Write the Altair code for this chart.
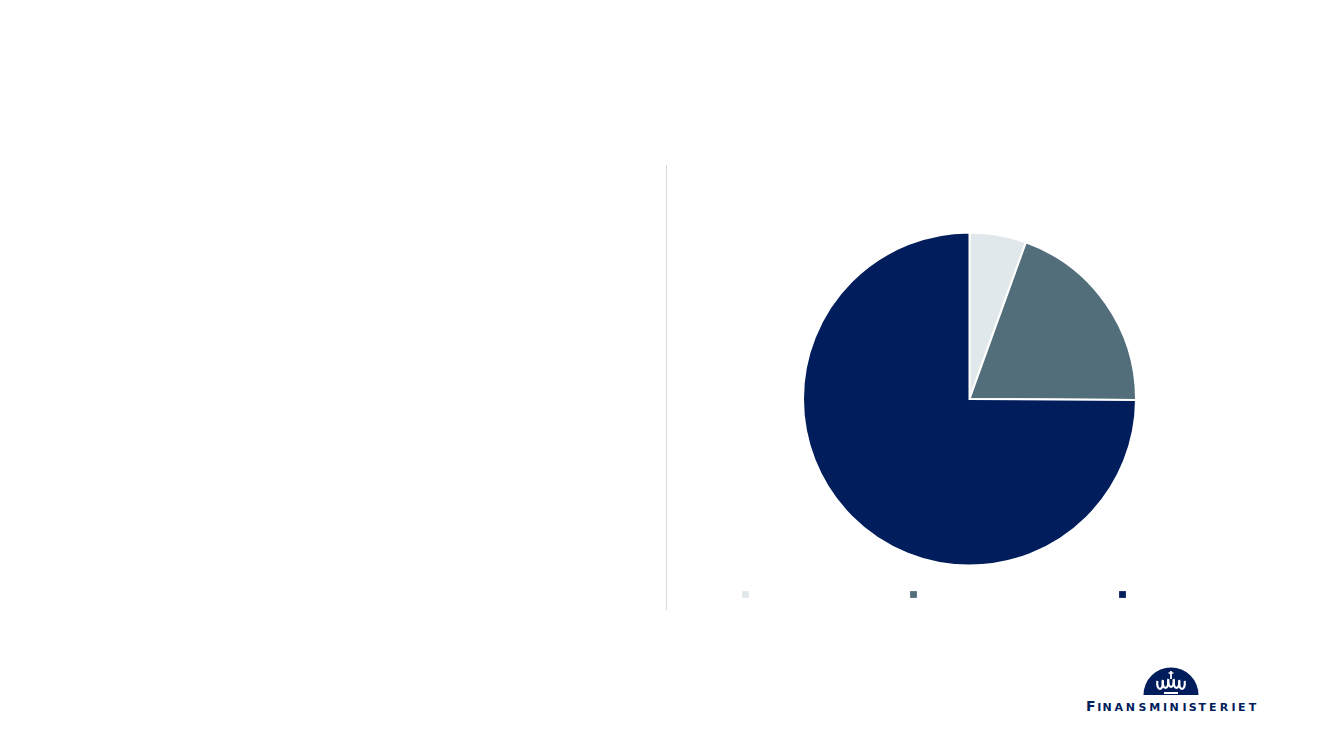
import altair as alt
import pandas as pd

# Pie shares (per cent), clockwise from 12 o'clock
shares = [5.5, 19.6, 74.9]
order = [1, 2, 3]
colors = ["#E1E8EB", "#526E7A", "#021D5C"]

# Legend swatches and logo details, in plot units (domain = plot size)
legend_x = [737.5, 905.5, 1114.5]
legend_y = [586.5, 586.5, 586.5]

logo_letters = list("FINANSMINISTERIET")
logo_x = [1078, 1089.2, 1094.6, 1106.4, 1117.7, 1130.5, 1141.2, 1155.1, 1161.5, 1174.4, 1180.8, 1190.4, 1201.1, 1211.8, 1223.6, 1230, 1240.7]
logo_size = [14, 11, 11, 11, 11, 11, 11, 11, 11, 11, 11, 11, 11, 11, 11, 11, 11]

crown_x = [1152, 1157.5, 1163, 1168.5, 1174]
crown_y = [677, 676, 675, 676, 677]
cross_x = [1163, 1163]
cross_y = [663, 671]
cross_bar_x = [1160.5, 1165.5]
cross_bar_y = [665, 665]
base_x = [1156, 1170]
base_y = [685, 685]

W, H = 1317, 734
xs = alt.Scale(domain=[0, W], range=[0, W])
ys = alt.Scale(domain=[0, H], range=[0, H])

pie = alt.Chart(pd.DataFrame({"share": shares, "order": order, "color": colors})).mark_arc(
    outerRadius=166.5, stroke="white", strokeWidth=2
).encode(
    theta=alt.Theta("share:Q", stack=True),
    order=alt.Order("order:O"),
    color=alt.Color("color:N", scale=None),
    x=alt.value(961.5),
    y=alt.value(391),
)

legend = alt.Chart(pd.DataFrame({"x": legend_x, "y": legend_y, "color": colors})).mark_square(
    size=46, opacity=1
).encode(
    x=alt.X("x:Q", scale=xs, axis=None),
    y=alt.Y("y:Q", scale=ys, axis=None),
    color=alt.Color("color:N", scale=None),
)

divider = alt.Chart(pd.DataFrame({"x": [658.5], "y": [157], "y2": [602]})).mark_rule(
    color="#D9D9D9", strokeWidth=1
).encode(
    x=alt.X("x:Q", scale=xs, axis=None),
    y=alt.Y("y:Q", scale=ys, axis=None),
    y2="y2:Q",
)

dome = alt.Chart(pd.DataFrame({"a": [1]})).mark_arc(
    outerRadius=27.5, theta=4.7124, theta2=7.854, color="#021D5C"
).encode(x=alt.value(1163), y=alt.value(687))

crown = alt.Chart(pd.DataFrame({"x": crown_x, "y": crown_y})).mark_point(
    shape="M-1,-1.5 C-1.2,0.6 -0.6,1.4 0,1.4 C0.6,1.4 1.2,0.6 1,-1.5", filled=False,
    size=30, color="white", strokeWidth=2.1, opacity=1
).encode(
    x=alt.X("x:Q", scale=xs, axis=None),
    y=alt.Y("y:Q", scale=ys, axis=None),
)


def white_line(lx, ly, width):
    return alt.Chart(pd.DataFrame({"x": lx, "y": ly})).mark_line(
        color="white", strokeWidth=width
    ).encode(
        x=alt.X("x:Q", scale=xs, axis=None),
        y=alt.Y("y:Q", scale=ys, axis=None),
    )


cross = white_line(cross_x, cross_y, 1.8)
cross_bar = white_line(cross_bar_x, cross_bar_y, 1.4)
base = white_line(base_x, base_y, 2)

letters = alt.Chart(pd.DataFrame({"t": logo_letters, "x": logo_x, "s": logo_size, "y": [702.5] * 17})).mark_text(
    align="left", baseline="alphabetic", font="DejaVu Sans", fontWeight="bold", color="#021D5C"
).encode(
    x=alt.X("x:Q", scale=xs, axis=None),
    y=alt.Y("y:Q", scale=ys, axis=None),
    text="t:N",
    size=alt.Size("s:Q", scale=None, legend=None),
)

chart = alt.layer(divider, pie, legend, dome, crown, cross, cross_bar, base, letters).properties(
    width=W, height=H, padding=0, autosize=alt.AutoSizeParams(type="none"), background="white"
).configure_view(stroke=None)

chart.save("out.html", embed_options={"renderer": "svg", "actions": False})
